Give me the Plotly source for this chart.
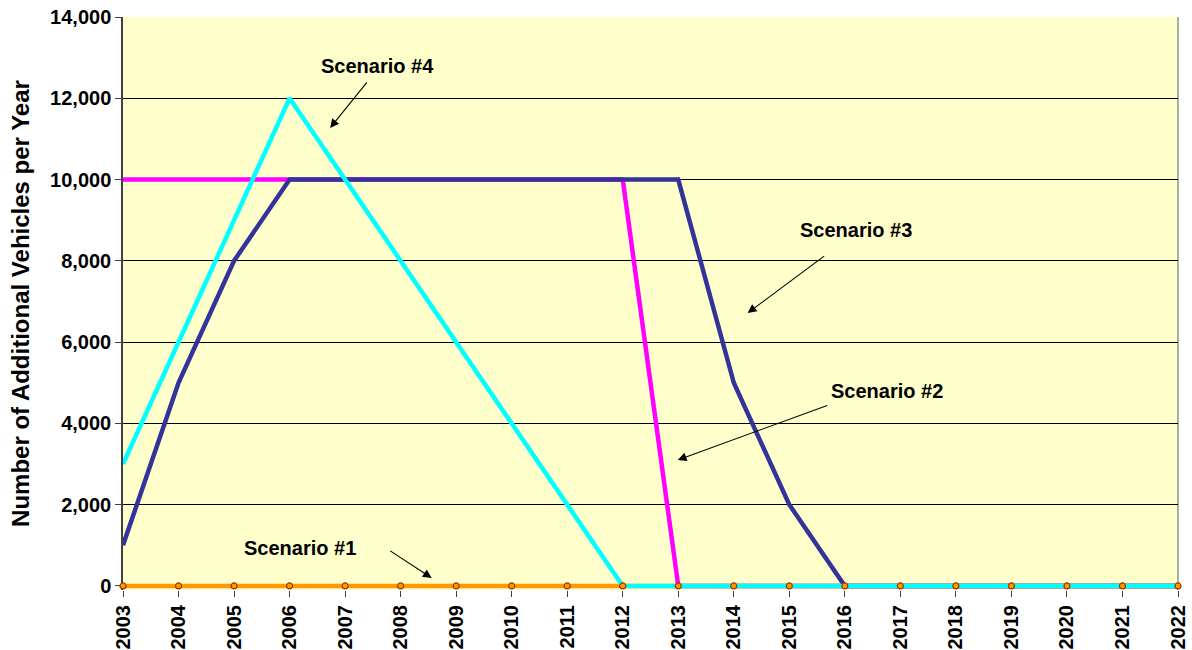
import plotly.graph_objects as go

years = list(range(2003, 2023))
scenario_1 = [0] * 20
scenario_2 = [10000] * 10 + [0] * 10
scenario_3 = [1000, 5000, 8000, 10000, 10000, 10000, 10000, 10000, 10000, 10000,
              10000, 5000, 2000, 0, 0, 0, 0, 0, 0, 0]
scenario_4 = [3000, 6000, 9000, 12000, 10000, 8000, 6000, 4000, 2000, 0,
              0, 0, 0, 0, 0, 0, 0, 0, 0, 0]
y_ticks = [0, 2000, 4000, 6000, 8000, 10000, 12000, 14000]

fig = go.Figure()
line_w = 4.5
fig.add_trace(go.Scatter(x=years, y=scenario_1, mode="lines",
                         line=dict(color="#FF9900", width=line_w), cliponaxis=False))
fig.add_trace(go.Scatter(x=years, y=scenario_2, mode="lines",
                         line=dict(color="#FF00FF", width=line_w), cliponaxis=False))
fig.add_trace(go.Scatter(x=years, y=scenario_3, mode="lines",
                         line=dict(color="#333399", width=line_w), cliponaxis=False))
fig.add_trace(go.Scatter(x=years, y=scenario_4, mode="lines",
                         line=dict(color="#00FFFF", width=line_w), cliponaxis=False))
fig.add_trace(go.Scatter(x=years, y=scenario_1, mode="markers",
                         marker=dict(color="#FF9900", size=6,
                                     line=dict(color="#993300", width=1.2)),
                         cliponaxis=False))

font_bold = "Liberation Sans, Arial, sans-serif"

# Labels with pointer arrows: (text, text x, text y, tip x, tip y, ax, ay)
labels = [
    ("Scenario #4", 2007.59, 12795, 2006.73, 11270, 38, -47),
    ("Scenario #3", 2016.2, 8760, 2014.25, 6717, 78, -58),
    ("Scenario #2", 2016.76, 4798, 2012.99, 3100, 151, -55),
    ("Scenario #1", 2006.19, 935, 2008.56, 197, -43, -28),
]
for text, tx, ty, hx, hy, ax, ay in labels:
    fig.add_annotation(x=tx, y=ty, text="<b>%s</b>" % text, showarrow=False,
                       font=dict(family=font_bold, size=20, color="black"))
    fig.add_annotation(x=hx, y=hy, text="", showarrow=True, ax=ax, ay=ay,
                       arrowhead=2, arrowsize=1.6, arrowwidth=1.1,
                       arrowcolor="black", standoff=0)

# Right-hand border of the plot area
fig.add_shape(type="line", xref="paper", yref="paper", x0=1, x1=1, y0=0, y1=1,
              line=dict(color="#909090", width=1.5), layer="below")

fig.update_layout(
    width=1192, height=650,
    margin=dict(l=123, r=14, t=17, b=60),
    paper_bgcolor="white", plot_bgcolor="#FFFFCC",
    showlegend=False,
    font=dict(family=font_bold, color="black"),
)
fig.update_xaxes(
    range=[2003, 2022], tickmode="array", tickvals=years,
    ticktext=["<b>%d</b>" % y for y in years],
    tickangle=-90, tickfont=dict(size=20, family=font_bold),
    ticks="outside", ticklen=6, tickcolor="#404040",
    showgrid=False, zeroline=False, automargin=False, layer="below traces",
    showline=False,
)
fig.update_yaxes(
    range=[-100, 14000], tickmode="array", tickvals=y_ticks,
    ticktext=["<b>{:,}</b>".format(v) for v in y_ticks],
    tickfont=dict(size=20, family=font_bold),
    ticks="outside", ticklen=6, tickcolor="#404040",
    showgrid=True, gridcolor="#000000", gridwidth=0.8,
    zeroline=False, showline=True, linecolor="#404040", linewidth=1.5,
    automargin=False, layer="below traces",
    title=dict(text="<b>Number of Additional Vehicles per Year</b>",
               font=dict(size=24, family=font_bold), standoff=14),
)

fig.write_html("out.html")
